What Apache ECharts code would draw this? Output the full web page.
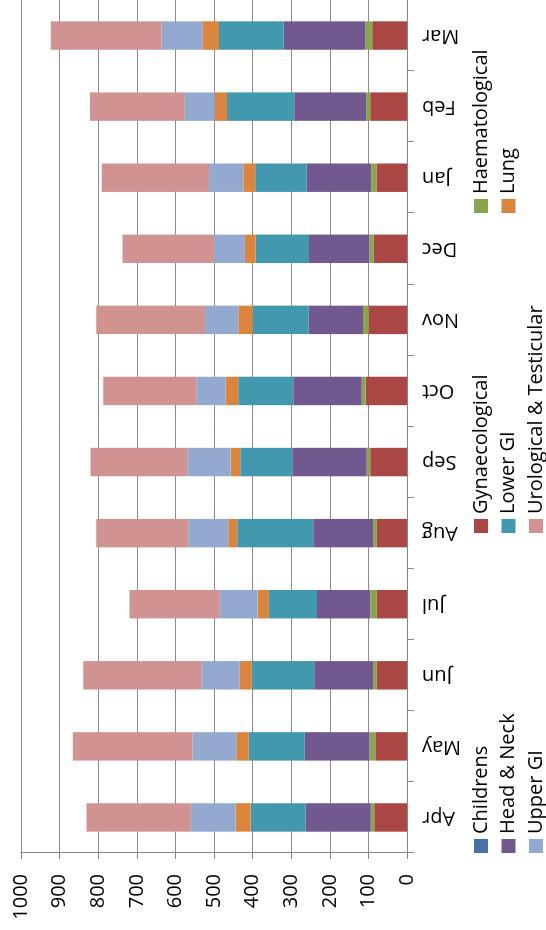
<!DOCTYPE html>
<html>
<head>
<meta charset="utf-8">
<script src="https://cdn.jsdelivr.net/npm/echarts@6/dist/echarts.min.js"></script>
<style>
html, body { margin: 0; padding: 0; width: 546px; height: 930px; overflow: hidden; background: #fff; }
#chart { position: absolute; left: 0; top: 0; width: 930px; height: 546px;
  transform-origin: 0 0; transform: translateY(930px) rotate(-90deg); }
</style>
</head>
<body>
<div id="chart"></div>
<script>
const months = ['Apr','May','Jun','Jul','Aug','Sep','Oct','Nov','Dec','Jan','Feb','Mar'];
const valueTicks = [0,100,200,300,400,500,600,700,800,900,1000];

const childrens      = [0,0,0,0,0,0,0,0,0,0,0,0];
const gynaecological = [85,82,79,79,78,95,107,99,86,79,95,90];
const haematological = [9,15,9,16,10,9,10,15,11,14,11,18];
const headNeck       = [169,168,152,138,155,193,178,141,157,167,186,211];
const lowerGI        = [142,145,162,125,197,135,142,145,138,133,174,168];
const lung           = [39,32,32,29,23,25,33,37,28,31,32,43];
const upperGI        = [116,114,99,98,104,112,76,86,80,89,78,106];
const urological     = [270,310,306,234,238,251,241,282,237,278,245,287];

const seriesNames = ['Childrens','Gynaecological','Haematological','Head & Neck','Lower GI','Lung','Upper GI','Urological & Testicular'];
const seriesData = [childrens, gynaecological, haematological, headNeck, lowerGI, lung, upperGI, urological];
const colors = ['#4572A7','#AA4643','#89A54E','#71588F','#4198AF','#DB843D','#93A9CF','#D19392'];

const FONT = 'Open Sans';
const chart = echarts.init(document.getElementById('chart'), null, {renderer: 'canvas'});

function legendCol(left, data) {
  return {
    orient: 'vertical', left: left, top: 471, padding: 0,
    itemWidth: 14, itemHeight: 14, itemGap: 7.5,
    icon: 'rect',
    textStyle: { fontFamily: FONT, fontSize: 20, color: '#000', lineHeight: 20 },
    data: data
  };
}

chart.setOption({
  animation: false,
  color: colors,
  textStyle: { fontFamily: FONT },
  grid: { left: 77, right: -2, top: 21, bottom: 139, containLabel: false },
  legend: [
    legendCol(77, ['Childrens','Head & Neck','Upper GI']),
    legendCol(397, ['Gynaecological','Lower GI','Urological & Testicular']),
    legendCol(717, ['Haematological','Lung'])
  ],
  xAxis: {
    type: 'category', data: months,
    axisLine: { show: true, lineStyle: { color: '#868686', width: 1 } },
    axisTick: { show: true, length: 7, lineStyle: { color: '#868686' } },
    axisLabel: { rotate: 90, margin: 15, fontFamily: FONT, fontSize: 20, color: '#000' },
    splitLine: { show: false }
  },
  yAxis: {
    type: 'value', min: valueTicks[0], max: valueTicks[valueTicks.length-1], interval: 100,
    axisLine: { show: true, lineStyle: { color: '#868686', width: 1 } },
    axisTick: { show: true, length: 6, lineStyle: { color: '#868686' } },
    axisLabel: { margin: 21, fontFamily: FONT, fontSize: 20, color: '#000',
      formatter: function (v) { return String(v); } },
    splitLine: { show: true, lineStyle: { color: '#8c8c8c', width: 1 } }
  },
  series: seriesNames.map((n, i) => ({
    name: n, type: 'bar', stack: 'total', barWidth: '40%',
    data: seriesData[i]
  }))
});
</script>
</body>
</html>
